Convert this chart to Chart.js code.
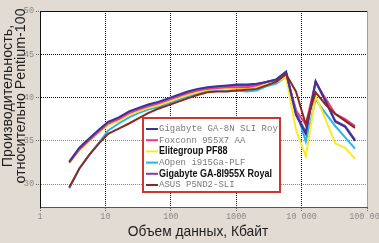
<!DOCTYPE html>
<html><head><meta charset="utf-8">
<script src="https://cdn.jsdelivr.net/npm/chart.js@4/dist/chart.umd.min.js"></script>
<style>html,body{margin:0;padding:0;background:#e2dbd3;}canvas{display:block;}</style>
</head><body>
<canvas id="c" width="379" height="243"></canvas>
<script>
// ---- data ----
const sizesKB = [2.8, 4, 5.7, 8, 11, 16, 23, 32, 45, 64, 91, 128, 181, 256, 362, 512, 724, 1024, 1448, 2048, 2896, 4096, 5793, 8192, 11585, 16384, 23170, 32768, 46341, 65536];
const seriesNames = ['Gigabyte GA-8N SLI Royal', 'Foxconn 955X7 AA', 'Elitegroup PF88', 'AOpen i915Ga-PLF', 'Gigabyte GA-8I955X Royal', 'ASUS P5ND2-SLI'];
const gigabyte8N = [32.6,34.2,35.3,36.3,37.2,37.7,38.4,38.8,39.2,39.5,39.9,40.3,40.7,41.0,41.2,41.3,41.4,41.5,41.5,41.6,41.8,42.1,43.0,38.0,35.8,41.9,39.6,37.2,36.6,35.0];
const foxconn = [32.5,34.0,35.1,36.1,37.0,37.5,38.2,38.6,39.0,39.3,39.7,40.1,40.5,40.8,41.0,41.1,41.2,41.2,41.2,41.4,41.8,42.1,42.8,38.5,36.9,41.8,39.9,38.1,37.5,36.7];
const elitegroup = [32.4,33.9,35.0,36.0,36.8,37.3,38.0,38.4,38.8,39.1,39.5,39.9,40.3,40.6,40.9,41.0,41.0,41.1,41.1,41.2,41.5,41.8,42.4,36.3,33.2,40.2,37.5,34.7,34.2,32.9];
const aopen = [29.5,31.8,33.4,34.8,36.2,37.0,37.7,38.2,38.6,38.9,39.3,39.7,40.1,40.5,40.8,40.9,40.9,40.8,40.7,40.8,41.3,41.6,42.4,38.6,34.9,39.8,38.2,36.7,35.4,34.1];
const gigabyte8I955X = [32.5,34.1,35.2,36.2,37.1,37.6,38.3,38.7,39.1,39.4,39.8,40.2,40.6,40.9,41.1,41.2,41.3,41.4,41.4,41.5,41.8,42.0,42.9,38.2,36.0,41.8,39.6,37.3,36.7,35.1];
const asus = [29.6,31.8,33.4,34.7,35.8,36.4,37.0,37.6,38.2,38.7,39.1,39.5,39.9,40.3,40.6,40.7,40.7,40.8,40.9,41.0,41.4,41.8,42.7,40.7,36.9,40.6,39.2,38.1,37.3,36.5];
const xTickValues = [1, 10, 100, 1000, 10000, 100000];
const xTickLabels = ['1', '10', '100', '1000', '10 000', '100 000'];
const yTickValues = [30, 35, 40, 45, 50];
const yTickLabels = ['30', '35', '40', '45', '50'];
const xTitle = 'Объем данных, Кбайт';
const yTitle = ['Производительность,', 'относительно Pentium-100'];

// ---- styles ----
const seriesValues = [gigabyte8N, foxconn, elitegroup, aopen, gigabyte8I955X, asus];
const colors = ['#38359a', '#ea3a8e', '#fde92a', '#27b6ea', '#8a3a9c', '#8a2a1f'];
const drawOrder = [1, 2, 4, 5, 3, 0];
const legendBold = [false, false, true, false, true, false];

const datasets = seriesNames.map((name, i) => ({
  label: name,
  data: sizesKB.map((s, j) => ({x: s, y: seriesValues[i][j]})),
  borderColor: colors[i],
  backgroundColor: colors[i],
  borderWidth: 2,
  pointRadius: 0,
  tension: 0,
  fill: false,
  order: drawOrder[i]
}));

const decor = {
  id: 'decor',
  beforeDraw(chart) {
    const {ctx, chartArea: a} = chart;
    ctx.save();
    ctx.fillStyle = '#e2dbd3';
    ctx.fillRect(0, 0, chart.width, chart.height);
    ctx.fillStyle = '#ffffff';
    ctx.fillRect(a.left, a.top, a.right - a.left, a.bottom - a.top);
    ctx.restore();
  },
  afterDraw(chart) {
    const {ctx, chartArea: a} = chart;
    ctx.save();
    // frame
    ctx.lineWidth = 1;
    ctx.strokeStyle = '#111';
    ctx.beginPath(); ctx.moveTo(a.left, a.top + 0.5); ctx.lineTo(a.right, a.top + 0.5); ctx.stroke();
    ctx.strokeStyle = '#a0a0a0';
    ctx.beginPath(); ctx.moveTo(a.right + 0.5, a.top); ctx.lineTo(a.right + 0.5, a.bottom); ctx.stroke();
    // axis titles
    ctx.fillStyle = '#1e1e1e';
    ctx.font = '15px "Liberation Sans", Arial, sans-serif';
    ctx.textAlign = 'center';
    ctx.textBaseline = 'middle';
    ctx.save();
    ctx.translate(198, 232);
    ctx.scale(0.92, 1);
    ctx.fillText(xTitle, 0, 0);
    ctx.restore();
    ctx.save();
    ctx.translate(8, 96);
    ctx.rotate(-Math.PI / 2);
    ctx.scale(0.95, 1);
    ctx.fillText(yTitle[0], 0, 0);
    ctx.fillText(yTitle[1], 0, 13);
    ctx.restore();
    // legend
    const bx = 143, by = 118, bw = 137, bh = 74;
    ctx.fillStyle = '#ffffff';
    ctx.fillRect(bx, by, bw, bh);
    ctx.lineWidth = 2;
    ctx.strokeStyle = '#d0352f';
    ctx.strokeRect(bx, by, bw, bh);
    ctx.save();
    ctx.beginPath(); ctx.rect(bx + 1, by + 1, bw - 3, bh - 2); ctx.clip();
    seriesNames.forEach((name, i) => {
      const y = 129 + i * 11.2;
      ctx.strokeStyle = colors[i];
      ctx.lineWidth = 2;
      ctx.beginPath(); ctx.moveTo(146, y); ctx.lineTo(158, y); ctx.stroke();
      ctx.textAlign = 'left';
      ctx.textBaseline = 'middle';
      if (legendBold[i]) {
        ctx.fillStyle = '#111';
        ctx.font = 'bold 10px "Liberation Sans", Arial, sans-serif';
        ctx.save();
        ctx.translate(159, y);
        ctx.scale(0.9, 1);
        ctx.fillText(name, 0, 0);
        ctx.restore();
      } else {
        ctx.fillStyle = '#7a7a7a';
        ctx.font = '9px "Liberation Mono", monospace';
        ctx.fillText(name, 159, y);
      }
    });
    ctx.restore();
    ctx.restore();
  }
};

new Chart(document.getElementById('c'), {
  type: 'line',
  data: {datasets},
  options: {
    responsive: false,
    animation: false,
    devicePixelRatio: 1,
    layout: {padding: {left: 0, right: 12, top: 11, bottom: 0}},
    plugins: {legend: {display: false}, tooltip: {enabled: false}, title: {display: false}},
    scales: {
      x: {
        type: 'logarithmic',
        min: 1, max: 100000,
        afterBuildTicks(s) { s.ticks = xTickValues.map(v => ({value: v})); },
        afterFit(s) { s.height = 36; s.paddingLeft = 0; s.paddingRight = 0; },
        ticks: {
          autoSkip: false, maxRotation: 0, minRotation: 0, padding: 1,
          color: '#8a8a8a',
          font: {family: '"Liberation Mono", monospace', size: 8.5},
          callback: (v) => { const i = xTickValues.indexOf(v); return i >= 0 ? xTickLabels[i] : ''; }
        },
        grid: {
          color: (c) => (c.tick && (c.tick.value === 1 || c.tick.value === 100000)) ? 'rgba(0,0,0,0)' : '#111',
          lineWidth: 1,
          tickLength: 4,
          tickColor: '#666',
          tickBorderDash: [1, 1]
        },
        border: {display: true, color: '#555', width: 1, dash: [1, 1]}
      },
      y: {
        min: 27.35, max: 50,
        afterBuildTicks(s) { s.ticks = yTickValues.map(v => ({value: v})); },
        afterFit(s) { s.width = 40; s.paddingTop = 0; s.paddingBottom = 0; },
        ticks: {
          padding: 2,
          color: '#8a8a8a',
          font: {family: '"Liberation Mono", monospace', size: 8.5},
          callback: (v) => { const i = yTickValues.indexOf(v); return i >= 0 ? yTickLabels[i] : ''; }
        },
        grid: {
          color: (c) => !c.tick ? '#111' : (c.tick.value === 50 ? 'rgba(0,0,0,0)' : (c.tick.value >= 40 ? '#111' : '#888')),
          lineWidth: 1,
          tickLength: 4,
          tickColor: '#666',
          tickBorderDash: [1, 1]
        },
        border: {display: true, color: '#111', width: 1, dash: [1, 1]}
      }
    }
  },
  plugins: [decor]
});
</script>
</body></html>
